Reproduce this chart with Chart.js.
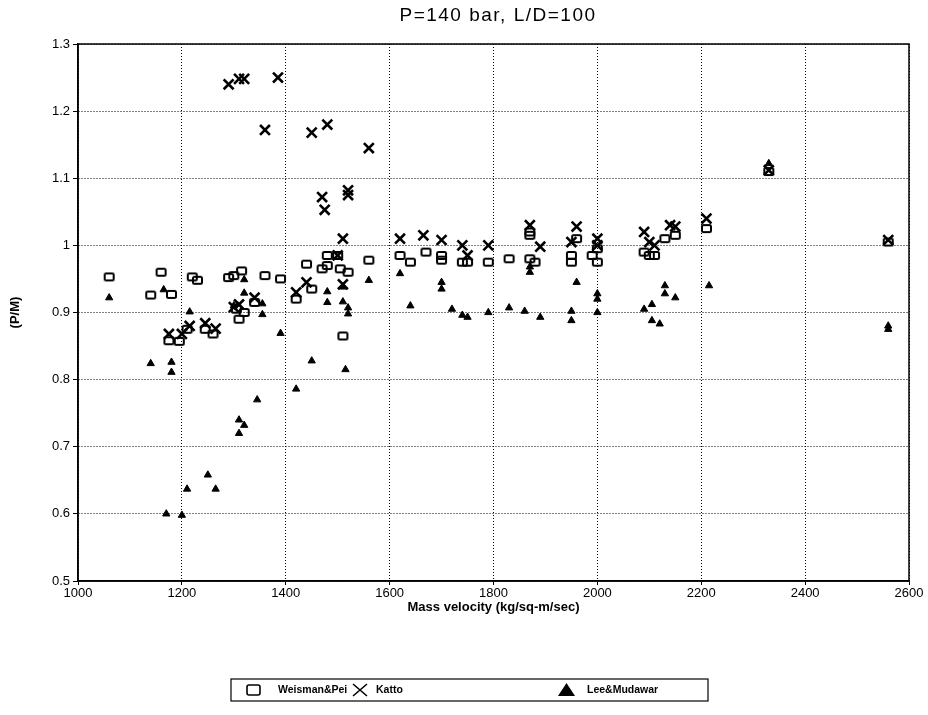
<!DOCTYPE html>
<html>
<head>
<meta charset="utf-8">
<script src="https://cdn.jsdelivr.net/npm/chart.js@4.4.1/dist/chart.umd.min.js"></script>
<style>
  html, body { margin: 0; padding: 0; background: #fff; }
</style>
</head>
<body>
<canvas id="chart" width="928" height="715"></canvas>
<script>
const chartTitle = 'P=140 bar, L/D=100';
const xTitle = 'Mass velocity (kg/sq-m/sec)';
const yTitle = '(P/M)';
const seriesNames = ['Weisman&Pei', 'Katto', 'Lee&Mudawar'];

const xTickValues = [1000, 1200, 1400, 1600, 1800, 2000, 2200, 2400, 2600];
const yTickValues = [0.5, 0.6, 0.7, 0.8, 0.9, 1.0, 1.1, 1.2, 1.3];

// Weisman & Pei (open squares)
const weismanX = [1060, 1140, 1160, 1180, 1175, 1195, 1210, 1220, 1230, 1245, 1260, 1290, 1300, 1310,
  1305, 1315, 1320, 1340, 1360, 1390, 1420, 1440, 1450, 1470, 1480, 1480, 1500, 1505, 1510, 1520,
  1560, 1620, 1640, 1670, 1700, 1700, 1740, 1750, 1790, 1830, 1870, 1870, 1870, 1880, 1950, 1950,
  1960, 1990, 2000, 2000, 2090, 2100, 2110, 2130, 2150, 2210, 2330, 2560];
const weismanY = [0.953, 0.926, 0.960, 0.927, 0.858, 0.857, 0.875, 0.953, 0.948, 0.875, 0.868, 0.952, 0.955, 0.890,
  0.905, 0.962, 0.900, 0.915, 0.955, 0.950, 0.920, 0.972, 0.935, 0.965, 0.985, 0.970, 0.985, 0.965, 0.865, 0.960,
  0.978, 0.985, 0.975, 0.990, 0.985, 0.978, 0.975, 0.975, 0.975, 0.980, 0.980, 1.015, 1.020, 0.975, 0.985, 0.975,
  1.010, 0.985, 0.995, 0.975, 0.990, 0.985, 0.985, 1.010, 1.015, 1.025, 1.110, 1.005];

// Katto (crosses)
const kattoX = [1290, 1310, 1320, 1385, 1360, 1450, 1480, 1470, 1475, 1520, 1520, 1560, 1510, 1500,
  1175, 1200, 1215, 1245, 1265, 1300, 1310, 1340, 1420, 1440, 1510, 1620, 1665, 1700, 1740, 1750,
  1790, 1870, 1890, 1960, 1950, 2000, 2000, 2090, 2100, 2110, 2140, 2150, 2210, 2330, 2560];
const kattoY = [1.240, 1.248, 1.248, 1.250, 1.172, 1.168, 1.180, 1.072, 1.053, 1.082, 1.075, 1.145, 1.010, 0.985,
  0.868, 0.868, 0.880, 0.884, 0.876, 0.908, 0.912, 0.922, 0.930, 0.945, 0.942, 1.010, 1.015, 1.008, 1.000, 0.985,
  1.000, 1.030, 0.998, 1.028, 1.005, 1.010, 1.000, 1.020, 1.005, 1.000, 1.030, 1.028, 1.040, 1.112, 1.008];

// Lee & Mudawar (filled triangles)
const leeX = [1060, 1140, 1165, 1180, 1180, 1170, 1200, 1210, 1215, 1250, 1265, 1300, 1310, 1310,
  1320, 1320, 1320, 1345, 1355, 1355, 1390, 1420, 1450, 1480, 1480, 1510, 1510, 1515, 1520, 1520,
  1560, 1620, 1640, 1700, 1700, 1720, 1740, 1750, 1790, 1830, 1860, 1870, 1870, 1890, 1950, 1950,
  1960, 2000, 2000, 2000, 2090, 2105, 2105, 2120, 2130, 2130, 2150, 2215, 2330, 2560, 2560];
const leeY = [0.922, 0.824, 0.934, 0.826, 0.811, 0.600, 0.598, 0.637, 0.901, 0.658, 0.637, 0.910, 0.720, 0.740,
  0.732, 0.949, 0.929, 0.770, 0.913, 0.897, 0.869, 0.786, 0.828, 0.931, 0.915, 0.938, 0.916, 0.815, 0.907, 0.898,
  0.948, 0.958, 0.910, 0.945, 0.935, 0.905, 0.896, 0.893, 0.900, 0.907, 0.902, 0.968, 0.960, 0.893, 0.902, 0.888,
  0.945, 0.900, 0.920, 0.928, 0.905, 0.912, 0.888, 0.883, 0.940, 0.928, 0.922, 0.940, 1.122, 0.880, 0.875];

const toPoints = (xs, ys) => xs.map((x, i) => ({ x: x, y: ys[i] }));

const font = '"Liberation Sans", Arial, sans-serif';

// small rounded open box used as marker
function openBox(w, h, lw) {
    const c = document.createElement('canvas');
    c.width = w + 4; c.height = h + 4;
    const g = c.getContext('2d');
    g.strokeStyle = '#000';
    g.lineWidth = lw;
    g.beginPath();
    g.roundRect(2, 2, w, h, 1.5);
    g.stroke();
    return c;
}
const boxMarker = openBox(9, 7, 2);

/* frame, title and boxed legend */
const decorations = {
    id: 'decorations',
    afterDraw(chart) {
        const ctx = chart.ctx;
        const a = chart.chartArea;
        ctx.save();
        ctx.strokeStyle = '#000';
        ctx.lineWidth = 1.5;
        ctx.strokeRect(a.left, a.top, a.right - a.left, a.bottom - a.top);

        ctx.fillStyle = '#000';
        ctx.textBaseline = 'middle';
        ctx.textAlign = 'center';
        ctx.font = '19px ' + font;
        ctx.letterSpacing = '1.5px';
        ctx.fillText(chartTitle, 498, 16);
        ctx.letterSpacing = '0px';

        // legend box
        ctx.lineWidth = 1.2;
        ctx.strokeRect(231, 679, 477, 22);
        const ly = 690;
        ctx.textAlign = 'left';
        ctx.font = 'bold 10.5px ' + font;

        ctx.lineWidth = 1.6;
        ctx.beginPath();
        ctx.roundRect(247, ly - 5, 13, 10, 2);
        ctx.stroke();
        ctx.fillText(seriesNames[0], 278, ly);

        ctx.lineWidth = 1.6;
        ctx.beginPath();
        ctx.moveTo(353, ly - 6); ctx.lineTo(367, ly + 6);
        ctx.moveTo(367, ly - 6); ctx.lineTo(353, ly + 6);
        ctx.stroke();
        ctx.fillText(seriesNames[1], 376, ly);

        ctx.beginPath();
        ctx.moveTo(566.5, ly - 7); ctx.lineTo(575, ly + 6); ctx.lineTo(558, ly + 6);
        ctx.closePath();
        ctx.fill();
        ctx.fillText(seriesNames[2], 587, ly);
        ctx.restore();
    }
};

new Chart(document.getElementById('chart'), {
    type: 'scatter',
    data: {
        datasets: [
            {
                label: seriesNames[0],
                data: toPoints(weismanX, weismanY),
                pointStyle: boxMarker,
                pointRadius: 5,
                borderColor: '#000',
                backgroundColor: 'transparent'
            },
            {
                label: seriesNames[1],
                data: toPoints(kattoX, kattoY),
                pointStyle: 'crossRot',
                pointRadius: 7,
                borderWidth: 2.6,
                borderColor: '#000',
                backgroundColor: '#000'
            },
            {
                label: seriesNames[2],
                data: toPoints(leeX, leeY),
                pointStyle: 'triangle',
                pointRadius: 4.2,
                borderWidth: 1,
                borderColor: '#000',
                backgroundColor: '#000'
            }
        ]
    },
    options: {
        responsive: false,
        animation: false,
        layout: { padding: { top: 44, right: 19, bottom: 100, left: 0 } },
        scales: {
            x: {
                type: 'linear',
                min: 1000,
                max: 2600,
                afterBuildTicks: s => { s.ticks = xTickValues.map(v => ({ value: v })); },
                afterFit: s => { s.height = 34; },
                ticks: {
                    color: '#000', font: { family: font, size: 13 }, padding: 1, maxRotation: 0,
                    callback: v => String(v)
                },
                grid: { color: '#000', lineWidth: 1, tickLength: 4, tickColor: '#000', tickBorderDash: [] },
                border: { color: '#000', width: 1.5, dash: [1, 2] },
                title: {
                    display: true, text: xTitle, color: '#000',
                    font: { family: font, size: 13, weight: 'bold' },
                    padding: { top: 0, bottom: 0 }
                }
            },
            y: {
                type: 'linear',
                min: 0.5,
                max: 1.3,
                afterBuildTicks: s => { s.ticks = yTickValues.map(v => ({ value: v })); },
                afterFit: s => { s.width = 78; },
                ticks: {
                    color: '#000', font: { family: font, size: 13 }, padding: 3,
                    callback: v => String(parseFloat(v.toFixed(2)))
                },
                grid: { color: '#000', lineWidth: 1, tickLength: 5, tickColor: '#000', tickBorderDash: [] },
                border: { color: '#000', width: 1.5, dash: [1, 2] },
                title: {
                    display: true, text: yTitle, color: '#000',
                    font: { family: font, size: 13, weight: 'bold' },
                    padding: { top: 8, bottom: 0 }
                }
            }
        },
        plugins: {
            legend: { display: false },
            title: { display: false },
            tooltip: { enabled: false }
        }
    },
    plugins: [decorations]
});
</script>
</body>
</html>
